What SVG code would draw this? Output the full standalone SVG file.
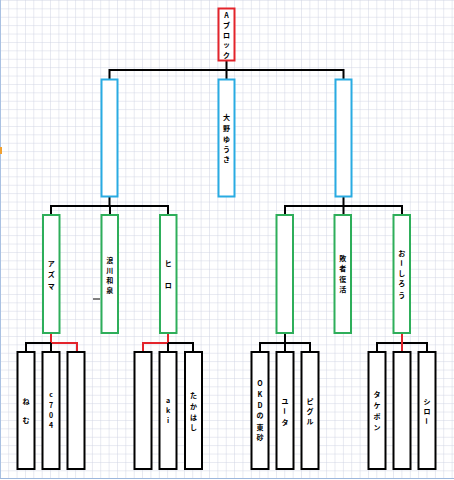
<svg xmlns="http://www.w3.org/2000/svg" width="454" height="480" viewBox="0 0 454 480">
<defs>
<pattern id="grid" x="0.8" y="0.9" width="8.366" height="8.4" patternUnits="userSpaceOnUse">
<path d="M8.366 0V8.4M0 8.4H8.366" fill="none" stroke="#d0d4e3" stroke-width="1"/>
</pattern>
<style>
.bx{fill:#fff;stroke:#000;stroke-width:2}
.red{fill:#fff;stroke:#e3242b;stroke-width:2}
.blue{fill:#fff;stroke:#29abe2;stroke-width:2}
.green{fill:#fff;stroke:#2eae5a;stroke-width:2}
.k{fill:none;stroke:#000;stroke-width:2}
.r{fill:none;stroke:#e3242b;stroke-width:2}
text{font-family:"Noto Sans CJK JP","Noto Sans",sans-serif;font-size:7px;font-weight:bold;fill:#000;text-anchor:middle;dominant-baseline:central}
</style>
</defs>
<rect width="454" height="480" fill="#fff"/>
<rect width="454" height="478" fill="url(#grid)"/>
<line x1="0.5" y1="0" x2="0.5" y2="478" stroke="#a9c1e2" stroke-width="1"/>
<rect x="0" y="147" width="2" height="7" fill="#f0a030"/>
<line x1="0" y1="478.5" x2="454" y2="478.5" stroke="#9db7dc" stroke-width="1"/>

<g id="connectors">
<path class="k" d="M226.5 60.5V79M109.5 70H343.5M109.5 69V79M343.5 69V79"/>
<path class="k" d="M109.5 197V206M51 206H168M51 205V215M110 206V215M168 205V215"/>
<path class="k" d="M343.5 197V206M285 206H402M285 205V215M343.5 206V215M402 205V215"/>
<path class="r" d="M51 333V343M51 343H77M77 342V352"/>
<path class="k" d="M26 343H51M26 342V352M51 343V352"/>
<path class="r" d="M168 333V343M143 343H168M143 342V352"/>
<path class="k" d="M168 343H193M193 342V352M168 343V352"/>
<path class="k" d="M285 333V352M260 343H310M260 342V352M310 342V352"/>
<path class="k" d="M377 343H427M377 342V352M427 342V352"/>
<path class="r" d="M402 333V352"/>
<line x1="93" y1="299" x2="100" y2="299" stroke="#000" stroke-width="1"/>
</g>

<g id="n-top"><rect class="red" x="218.5" y="8.5" width="16" height="52"/>
<text><tspan x="226.5" y="15">A</tspan><tspan x="226.5" y="25">ブ</tspan><tspan x="226.5" y="35">ロ</tspan><tspan x="226.5" y="44">ッ</tspan><tspan x="226.5" y="55">ク</tspan></text></g>

<g id="n-b1"><rect class="blue" x="101.5" y="79.5" width="16" height="117"/></g>
<g id="n-b2"><rect class="blue" x="218.5" y="79.5" width="16" height="117"/>
<text><tspan x="226.5" y="117">大</tspan><tspan x="226.5" y="128">野</tspan><tspan x="226.5" y="139">ゆ</tspan><tspan x="226.5" y="149">う</tspan><tspan x="226.5" y="159">き</tspan></text></g>
<g id="n-b3"><rect class="blue" x="335.5" y="79.5" width="16" height="117"/></g>

<g id="n-g1"><rect class="green" x="43" y="215" width="16.5" height="118"/>
<text><tspan x="51.2" y="263">ア</tspan><tspan x="51.2" y="274">ズ</tspan><tspan x="51.2" y="286">マ</tspan></text></g>
<g id="n-g2"><rect class="green" x="101.5" y="215" width="16.5" height="118"/>
<text><tspan x="109.8" y="260">浪</tspan><tspan x="109.8" y="270">川</tspan><tspan x="109.8" y="280">和</tspan><tspan x="109.8" y="290">泉</tspan></text></g>
<g id="n-g3"><rect class="green" x="160" y="215" width="16.5" height="118"/>
<text><tspan x="168.2" y="263">ヒ</tspan><tspan x="168.2" y="285">ロ</tspan></text></g>
<g id="n-g4"><rect class="green" x="276.5" y="215" width="16.5" height="118"/></g>
<g id="n-g5"><rect class="green" x="334.5" y="215" width="16.5" height="118"/>
<text><tspan x="342.8" y="258">敗</tspan><tspan x="342.8" y="268">者</tspan><tspan x="342.8" y="279">復</tspan><tspan x="342.8" y="289">活</tspan></text></g>
<g id="n-g6"><rect class="green" x="393.5" y="215" width="16.5" height="118"/>
<text><tspan x="401.8" y="253">お</tspan></text>
<text transform="rotate(90 401.8 263)" x="401.8" y="263">ー</text>
<text><tspan x="401.8" y="273">し</tspan><tspan x="401.8" y="283">ろ</tspan><tspan x="401.8" y="295">う</tspan></text></g>

<g id="n-p1"><rect class="bx" x="17.5" y="352" width="17" height="117"/>
<text><tspan x="26" y="401">ね</tspan><tspan x="26" y="420">む</tspan></text></g>
<g id="n-p2"><rect class="bx" x="42.5" y="352" width="17" height="117"/>
<text><tspan x="51" y="394">c</tspan><tspan x="51" y="405">7</tspan><tspan x="51" y="415">0</tspan><tspan x="51" y="425">4</tspan></text></g>
<g id="n-p3"><rect class="bx" x="67.5" y="352" width="17" height="117"/></g>
<g id="n-p4"><rect class="bx" x="134.5" y="352" width="17" height="117"/></g>
<g id="n-p5"><rect class="bx" x="159.5" y="352" width="17" height="117"/>
<text><tspan x="168" y="400">a</tspan><tspan x="168" y="410">k</tspan><tspan x="168" y="420">i</tspan></text></g>
<g id="n-p6"><rect class="bx" x="185" y="352" width="17" height="117"/>
<text><tspan x="193.5" y="395">た</tspan><tspan x="193.5" y="406">か</tspan><tspan x="193.5" y="417">は</tspan><tspan x="193.5" y="427">し</tspan></text></g>
<g id="n-p7"><rect class="bx" x="251.5" y="352" width="17" height="117"/>
<text><tspan x="260" y="383">O</tspan><tspan x="260" y="394">K</tspan><tspan x="260" y="405">D</tspan><tspan x="260" y="415">の</tspan><tspan x="260" y="427">東</tspan><tspan x="260" y="437">砂</tspan></text></g>
<g id="n-p8"><rect class="bx" x="276.5" y="352" width="17" height="117"/>
<text><tspan x="285" y="401">ユ</tspan></text>
<text transform="rotate(90 285 411)" x="285" y="411">ー</text>
<text><tspan x="285" y="422">タ</tspan></text></g>
<g id="n-p9"><rect class="bx" x="301.5" y="352" width="17" height="117"/>
<text><tspan x="310" y="401">ピ</tspan><tspan x="310" y="411">グ</tspan><tspan x="310" y="421">ル</tspan></text></g>
<g id="n-p10"><rect class="bx" x="368.5" y="352" width="17" height="117"/>
<text><tspan x="377" y="394">タ</tspan><tspan x="377" y="405">ケ</tspan><tspan x="377" y="416">ポ</tspan><tspan x="377" y="427">ン</tspan></text></g>
<g id="n-p11"><rect class="bx" x="393.5" y="352" width="17" height="117"/></g>
<g id="n-p12"><rect class="bx" x="418.5" y="352" width="17" height="117"/>
<text><tspan x="427" y="401">シ</tspan><tspan x="427" y="411">ロ</tspan></text>
<text transform="rotate(90 427 421)" x="427" y="421">ー</text></g>
</svg>
